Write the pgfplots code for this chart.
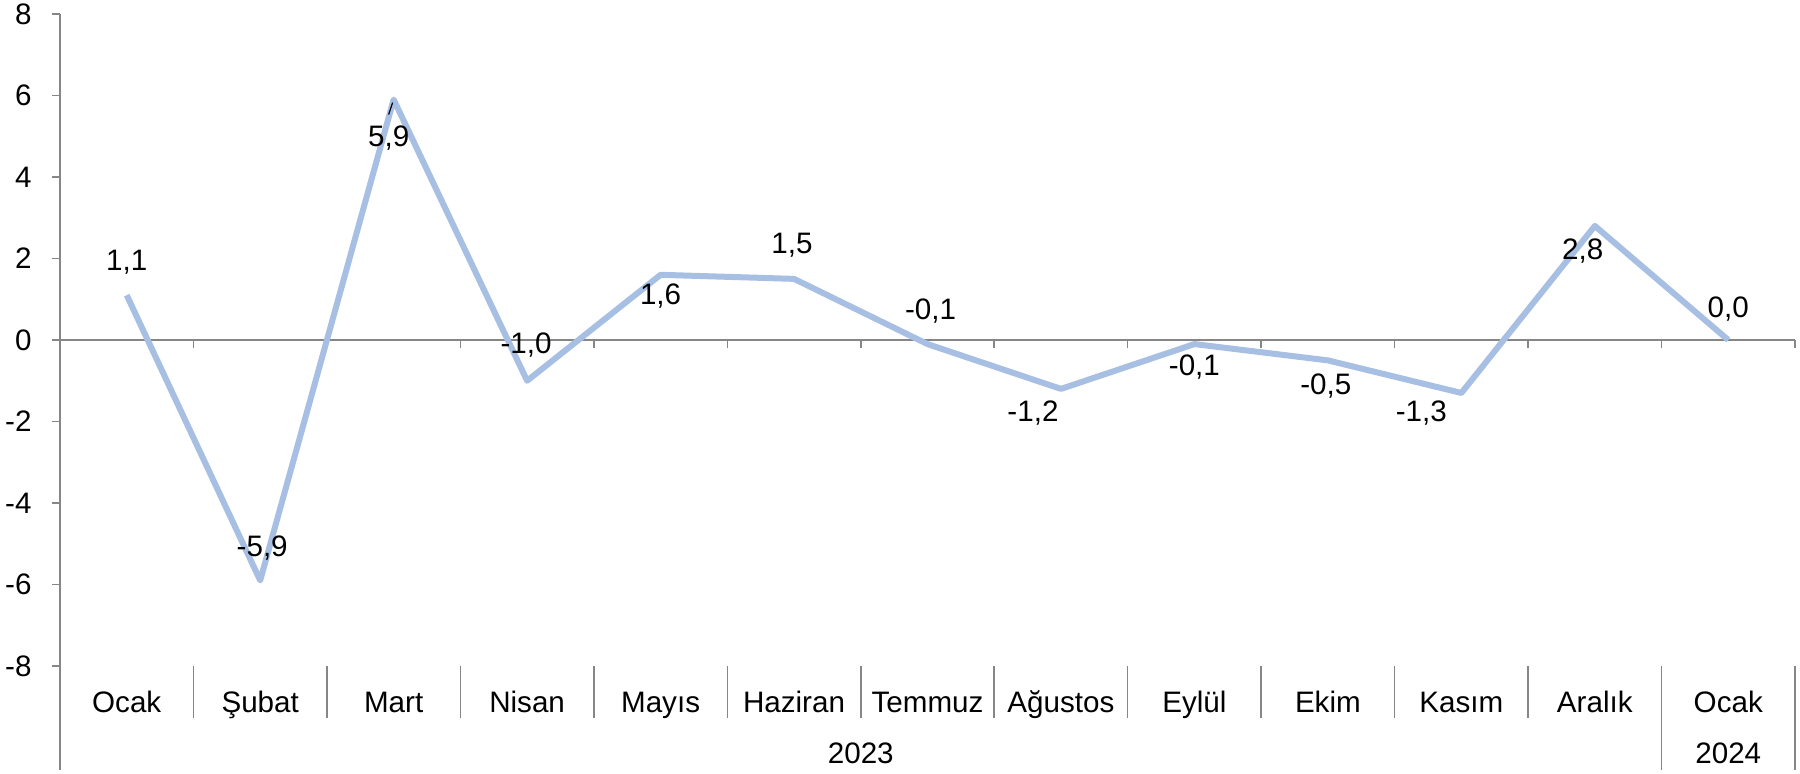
\documentclass[border=0pt]{standalone}
\usepackage{pgfplots}
\pgfplotsset{compat=1.18}
\usepackage{pgfplotstable}
\usepackage{fontspec}
\setmainfont{Liberation Sans}
\definecolor{lineblue}{RGB}{166,191,227}
\definecolor{axgray}{RGB}{134,134,134}
\pgfplotstableread{
x y lab dx dy
0 1.1 1,1 0 -33
1 -5.9 -5,9 2 -32
2 5.9 5,9 -5 38
3 -1.0 -1,0 -1 -36
4 1.6 1,6 0 21
5 1.5 1,5 -2 -34
6 -0.1 -0,1 3 -33
7 -1.2 -1,2 -28 24
8 -0.1 -0,1 0 23
9 -0.5 -0,5 -2 26
10 -1.3 -1,3 -40 20
11 2.8 2,8 -12 25
12 0.0 0,0 0 -31
}\data
\begin{document}
\begin{tikzpicture}[font=\fontsize{14.8}{17}\selectfont]
\useasboundingbox (-30pt,-53.5pt) rectangle (870pt,333pt);
\begin{axis}[
  at={(0,0)}, anchor=south west,
  scale only axis, width=867.5pt, height=326pt,
  xmin=-0.5, xmax=12.5, ymin=-8, ymax=8,
  axis y line*=left, axis x line*=middle,
  axis line style={axgray, line width=0.75pt},
  xtick={0.5,1.5,...,12.5}, xticklabels={},
  ytick={-8,-6,...,8},
  tick align=outside, major tick length=4pt,
  tick style={axgray, line width=0.75pt},
  /pgf/number format/assume math mode=true,
  yticklabel style={font=\fontsize{14.8}{17}\selectfont, xshift=-6.7pt},
  clip=false,
]
\addplot[lineblue, line width=3pt, line join=round,
  nodes near coords, point meta=explicit symbolic,
  visualization depends on={\thisrow{dx} \as \dx},
  visualization depends on={\thisrow{dy} \as \dy},
  every node near coord/.style={anchor=center, text=black, inner sep=0pt,
    font=\fontsize{14.8}{17}\selectfont,
    xshift={\dx*0.5pt}, yshift={-1*\dy*0.5pt}},
] table[x=x, y=y, meta=lab] {\data};
% leader line of the 5,9 label
\draw[black, line width=0.6pt] ([xshift=-0.5pt, yshift=-1.5pt]axis cs:2,5.9) -- ++(-2pt,-6pt);
% category separators
\pgfplotsinvokeforeach{0.5,1.5,2.5,3.5,4.5,5.5,6.5,7.5,8.5,9.5,10.5}{
  \draw[axgray, line width=0.75pt] (axis cs:#1,-8) -- ++(0pt,-26pt);
}
\draw[axgray, line width=0.75pt] (axis cs:-0.5,-8) -- ++(0pt,-52pt);
\draw[axgray, line width=0.75pt] (axis cs:11.5,-8) -- ++(0pt,-52pt);
\draw[axgray, line width=0.75pt] (axis cs:12.5,-8) -- ++(0pt,-52pt);
% category labels (baseline aligned)
\begin{scope}[every node/.style={anchor=base, inner sep=0pt}]
\node at ([yshift=-23.1pt]axis cs:0,-8) {Ocak};
\node at ([yshift=-23.1pt]axis cs:1,-8) {Şubat};
\node at ([yshift=-23.1pt]axis cs:2,-8) {Mart};
\node at ([yshift=-23.1pt]axis cs:3,-8) {Nisan};
\node at ([yshift=-23.1pt]axis cs:4,-8) {Mayıs};
\node at ([yshift=-23.1pt]axis cs:5,-8) {Haziran};
\node at ([yshift=-23.1pt]axis cs:6,-8) {Temmuz};
\node at ([yshift=-23.1pt]axis cs:7,-8) {Ağustos};
\node at ([yshift=-23.1pt]axis cs:8,-8) {Eylül};
\node at ([yshift=-23.1pt]axis cs:9,-8) {Ekim};
\node at ([yshift=-23.1pt]axis cs:10,-8) {Kasım};
\node at ([yshift=-23.1pt]axis cs:11,-8) {Aralık};
\node at ([yshift=-23.1pt]axis cs:12,-8) {Ocak};
\node at ([yshift=-48.8pt]axis cs:5.5,-8) {2023};
\node at ([yshift=-48.8pt]axis cs:12,-8) {2024};
\end{scope}
\end{axis}
\end{tikzpicture}
\end{document}
